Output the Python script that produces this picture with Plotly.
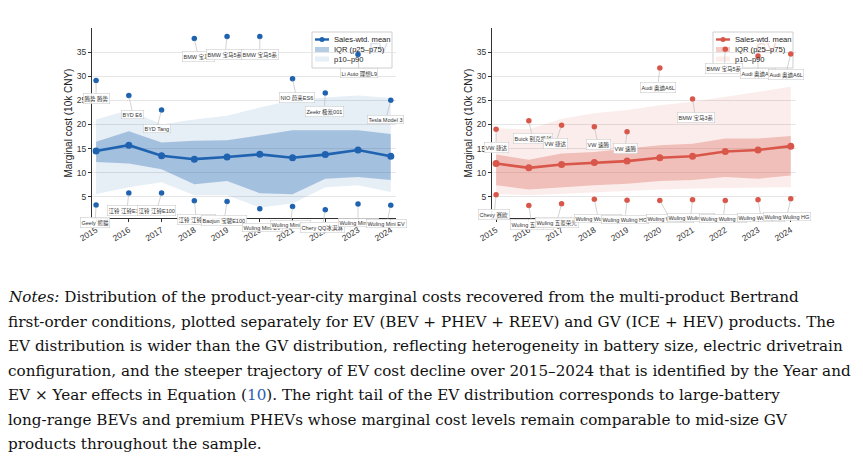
import plotly.graph_objects as go

years = [2015, 2016, 2017, 2018, 2019, 2020, 2021, 2022, 2023, 2024]
year_labels = [str(y) for y in years]

# EV distribution (10k CNY)
ev_mean = [14.5, 15.7, 13.5, 12.8, 13.25, 13.8, 13.1, 13.75, 14.7, 13.4]
ev_p25 = [12.2, 11.9, 10.7, 7.6, 8.25, 5.75, 5.5, 8.75, 9.1, 8.5]
ev_p75 = [16.4, 18.6, 16.25, 16.6, 16.7, 17.8, 18.8, 18.8, 18.8, 18.0]
ev_p10 = [5.6, 7.0, 8.0, 5.3, 5.3, 2.8, 3.6, 7.0, 7.4, 6.0]
ev_p90 = [21.0, 23.0, 20.0, 21.0, 21.8, 23.5, 25.0, 25.6, 26.0, 25.5]
ev_hi_val = [29.1, 26.0, 23.0, 37.8, 38.25, 38.25, 29.5, 26.5, 34.5, 25.0]
ev_hi_lab = ["腾势 腾势", "BYD E6", "BYD Tang", "BMW 宝马i3", "BMW 宝马5系", "BMW 宝马5系",
             "NIO 蔚来ES6", "Zeekr 极氪001", "Li Auto 理想L9", "Tesla Model 3"]
ev_lo_val = [3.3, 5.8, 5.8, 4.2, 4.0, 2.5, 3.0, 2.3, 3.5, 3.25]
ev_lo_lab = ["Geely 熊猫", "江铃 江铃E160", "江铃 江铃E100", "江铃 江铃E200", "Baojun 宝骏E100",
             "Wuling Mini EV", "Wuling Mini EV", "Chery QQ冰淇淋", "Wuling Mini EV", "Wuling Mini EV"]

# GV distribution (10k CNY)
gv_mean = [11.9, 11.0, 11.7, 12.1, 12.4, 13.1, 13.4, 14.4, 14.7, 15.5]
gv_p25 = [7.4, 6.5, 7.0, 7.4, 7.7, 8.25, 8.5, 9.1, 8.75, 9.4]
gv_p75 = [13.75, 12.7, 14.0, 14.3, 15.0, 15.7, 16.0, 17.1, 17.1, 17.6]
gv_p10 = [5.6, 5.3, 5.6, 6.0, 6.2, 6.5, 6.7, 6.9, 6.9, 7.0]
gv_p90 = [19.2, 19.0, 21.2, 22.3, 23.0, 24.0, 24.7, 25.7, 26.8, 27.8]
gv_hi_val = [19.0, 20.75, 19.85, 19.5, 18.5, 31.7, 25.3, 35.6, 34.2, 34.6]
gv_hi_lab = ["VW 捷达", "Buick 别克凯越", "VW 捷达", "VW 速腾", "VW 速腾", "Audi 奥迪A6L",
             "BMW 宝马3系", "BMW 宝马5系", "Audi 奥迪A6L", "Audi 奥迪A6L"]
gv_lo_val = [5.4, 3.2, 3.55, 4.5, 4.3, 4.25, 4.4, 4.25, 4.4, 4.6]
gv_lo_lab = ["Chevy 赛欧", "Wuling 五菱荣光", "Wuling 五菱荣光", "Wuling Wuling HG", "Wuling Wuling HG",
             "Wuling Wuling HG", "Wuling Wuling HG", "Wuling Wuling HG", "Wuling Wuling HG", "Wuling Wuling HG"]

legend_names = ["Sales-wtd. mean", "IQR (p25\u2013p75)", "p10\u2013p90"]

# label offsets in pixels (layout only)
ev_hi_off = [(0, 18), (4, 19), (-5, 19), (4, 18), (-2, 18), (0, 18), (4, 19), (-1, 18), (1, 18), (-5, 19)]
ev_lo_off = [(-1, 18), (-2, 18), (-5, 18), (2, 19), (-3, 19), (3, 19), (-2, 18), (-3, 18), (0, 18), (-4, 18)]
gv_hi_off = [(0, 18), (4, 18), (-6, 18), (4, 18), (-2, 17), (-2, 19), (3, 19), (-1, 19), (0, 18), (-5, 20)]
gv_lo_off = [(-2, 20), (3, 19), (-5, 19), (4, 19), (-2, 19), (10, 18), (-2, 18), (-2, 18), (3, 18), (-4, 18)]

W, H = 863, 476
BASE_FONT = "Liberation Sans, Arial, Noto Sans CJK SC, sans-serif"


def px(x):
    return x / W


def py(y):
    return 1 - y / H


fig = go.Figure()

panels = [
    dict(xa="x", ya="y", mean=ev_mean, p25=ev_p25, p75=ev_p75, p10=ev_p10, p90=ev_p90,
         hv=ev_hi_val, hl=ev_hi_lab, lv=ev_lo_val, ll=ev_lo_lab, ho=ev_hi_off, lo=ev_lo_off,
         c="#1f63b0", iqr="rgba(31,99,176,0.33)", outer="rgba(31,99,176,0.11)",
         leg_x=312, title="EV", title_c="#d9e0eb"),
    dict(xa="x2", ya="y2", mean=gv_mean, p25=gv_p25, p75=gv_p75, p10=gv_p10, p90=gv_p90,
         hv=gv_hi_val, hl=gv_hi_lab, lv=gv_lo_val, ll=gv_lo_lab, ho=gv_hi_off, lo=gv_lo_off,
         c="#d9574a", iqr="rgba(217,87,74,0.30)", outer="rgba(217,87,74,0.11)",
         leg_x=713, title="GV", title_c="#f3d6d2"),
]

annotations = []
shapes = []
for p in panels:
    fig.add_trace(go.Scatter(
        x=years + years[::-1], y=p["p90"] + p["p10"][::-1], fill="toself", fillcolor=p["outer"],
        line=dict(width=0), mode="lines", name=legend_names[2], showlegend=False,
        xaxis=p["xa"], yaxis=p["ya"], hoverinfo="skip"))
    fig.add_trace(go.Scatter(
        x=years + years[::-1], y=p["p75"] + p["p25"][::-1], fill="toself", fillcolor=p["iqr"],
        line=dict(width=0), mode="lines", name=legend_names[1], showlegend=False,
        xaxis=p["xa"], yaxis=p["ya"], hoverinfo="skip"))
    fig.add_trace(go.Scatter(
        x=years, y=p["mean"], mode="lines+markers", name=legend_names[0], showlegend=False,
        line=dict(color=p["c"], width=2.6), marker=dict(color=p["c"], size=7),
        xaxis=p["xa"], yaxis=p["ya"]))
    fig.add_trace(go.Scatter(
        x=years + years, y=p["hv"] + p["lv"], mode="markers", showlegend=False,
        marker=dict(color=p["c"], size=5.5), xaxis=p["xa"], yaxis=p["ya"]))
    for vals, labs, offs in ((p["hv"], p["hl"], p["ho"]), (p["lv"], p["ll"], p["lo"])):
        for yr, v, lab, (ox, oy) in zip(years, vals, labs, offs):
            annotations.append(dict(
                x=yr, y=v, xref=p["xa"], yref=p["ya"], text=lab, showarrow=True,
                arrowhead=0, arrowwidth=0.6, arrowcolor="#b5b5b5", ax=ox, ay=oy,
                standoff=2, font=dict(size=5.5, color="#333", family=BASE_FONT),
                bgcolor="rgba(255,255,255,0.92)", bordercolor="#c4c4c4", borderwidth=0.5,
                borderpad=1))

    # hand-drawn legend box (matches the compact reference legend)
    lx = p["leg_x"]
    annotations.append(dict(x=px(lx + 66), y=py(38), xref="paper", yref="paper", text=p["title"],
                            showarrow=False, font=dict(size=14, color=p["title_c"], family=BASE_FONT)))
    shapes.append(dict(type="rect", xref="paper", yref="paper", layer="between",
                       x0=px(lx), x1=px(lx + 80), y0=py(68), y1=py(32),
                       fillcolor="rgba(255,255,255,0.85)", line=dict(color="#cfcfcf", width=1)))
    shapes.append(dict(type="line", xref="paper", yref="paper", layer="above",
                       x0=px(lx + 3), x1=px(lx + 17), y0=py(39.5), y1=py(39.5),
                       line=dict(color=p["c"], width=2.4)))
    shapes.append(dict(type="circle", xref="paper", yref="paper", layer="above",
                       x0=px(lx + 7.5), x1=px(lx + 12.5), y0=py(42), y1=py(37),
                       fillcolor=p["c"], line=dict(color=p["c"], width=0)))
    shapes.append(dict(type="rect", xref="paper", yref="paper", layer="above",
                       x0=px(lx + 3), x1=px(lx + 17), y0=py(52), y1=py(47),
                       fillcolor=p["iqr"], line=dict(width=0)))
    shapes.append(dict(type="rect", xref="paper", yref="paper", layer="above",
                       x0=px(lx + 3), x1=px(lx + 17), y0=py(61.5), y1=py(56.5),
                       fillcolor=p["outer"], line=dict(width=0)))
    for k, name in enumerate(legend_names):
        annotations.append(dict(x=px(lx + 20), y=py(39.5 + 10 * k), xref="paper", yref="paper",
                                text=name, showarrow=False, xanchor="left", yanchor="middle",
                                font=dict(size=7.6, color="#222", family=BASE_FONT)))

notes = [
    "<i>Notes:</i> Distribution of the product-year-city marginal costs recovered from the multi-product Bertrand",
    "first-order conditions, plotted separately for EV (BEV + PHEV + REEV) and GV (ICE + HEV) products. The",
    "EV distribution is wider than the GV distribution, reflecting heterogeneity in battery size, electric drivetrain",
    "configuration, and the steeper trajectory of EV cost decline over 2015\u20132024 that is identified by the Year and",
    "EV \u00d7 Year effects in Equation (<span style='color:#2a5db0'>10</span>). The right tail of the EV distribution corresponds to large-battery",
    "long-range BEVs and premium PHEVs whose marginal cost levels remain comparable to mid-size GV",
    "products throughout the sample.",
]
for i, line in enumerate(notes):
    ypix = 297 + i * 24.5
    annotations.append(dict(x=px(6), y=py(ypix), xref="paper", yref="paper", text=line,
                            showarrow=False, xanchor="left", yanchor="middle",
                            font=dict(size=15.2, color="#111", family="DejaVu Serif, serif")))

ydom = [py(218), py(28)]
axis_common = dict(showline=True, linecolor="#333", linewidth=1, ticks="outside", ticklen=3,
                   tickcolor="#333", automargin=False,
                   tickfont=dict(size=8.5, color="#333", family=BASE_FONT))
xcommon = dict(axis_common, range=[2014.875, 2024.16], tickvals=years, ticktext=year_labels,
               tickangle=-32, showgrid=False, zeroline=False)
ycommon = dict(axis_common, range=[0.6, 40], tickvals=[5, 10, 15, 20, 25, 30, 35],
               showgrid=True, gridcolor="#e6e6e6", gridwidth=0.8, zeroline=False,
               title=dict(text="Marginal cost (10k CNY)", standoff=2,
                          font=dict(size=10, color="#222", family=BASE_FONT)))

fig.update_layout(
    width=W, height=H, margin=dict(l=0, r=0, t=0, b=0, autoexpand=False),
    paper_bgcolor="white", plot_bgcolor="white",
    font=dict(family=BASE_FONT),
    xaxis=dict(xcommon, domain=[px(92), px(396)], anchor="y"),
    yaxis=dict(ycommon, domain=ydom, anchor="x"),
    xaxis2=dict(xcommon, domain=[px(492), px(796)], anchor="y2"),
    yaxis2=dict(ycommon, domain=ydom, anchor="x2"),
    annotations=annotations,
    shapes=shapes,
    showlegend=False,
)

fig.write_html("out.html")
